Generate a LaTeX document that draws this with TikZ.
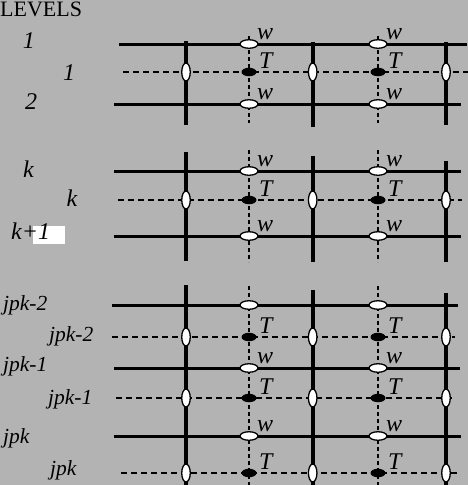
\documentclass[tikz,border=0pt]{standalone}
\usepackage{fontspec}
\setmainfont{Liberation Serif}
\usetikzlibrary{shapes.geometric}
\definecolor{bgGray}{RGB}{179,179,179}

\tikzset{
  solidrow/.style={line width=3pt},
  dashrow/.style={line width=2.5pt, dash pattern=on 6pt off 4pt},
  thickcol/.style={line width=4pt},
  dashcol/.style={line width=1.3pt, dash pattern=on 4pt off 3pt},
  wnode/.style={ellipse, draw, line width=1.3pt, fill=white, minimum width=18pt, minimum height=8.5pt, inner sep=0pt},
  tnode/.style={ellipse, fill=black, minimum width=15pt, minimum height=8.5pt, inner sep=0pt},
  vnode/.style={ellipse, draw, line width=1.3pt, fill=white, minimum width=8.5pt, minimum height=18pt, inner sep=0pt},
  numlab/.style={font=\fontsize{24}{26}\selectfont\itshape, inner sep=0pt, anchor=base},
  joblab/.style={font=\fontsize{21.5}{23}\selectfont\itshape, inner sep=0pt, anchor=base west},
  marklab/.style={font=\fontsize{24}{26}\selectfont\itshape, inner sep=0pt, anchor=base west}
}

\begin{document}
\begin{tikzpicture}[x=1pt, y=-1pt]
  % Background
  \useasboundingbox (0,0) rectangle (468,485);
  \fill[bgGray] (0,0) rectangle (468,485);

  % Horizontal rows
  \foreach \y/\xa/\xb in {44/119/467, 104/114/461, 171/114/461, 236/114/461,
                          305/112/458, 368/114/460, 436/114/461}
    \draw[solidrow] (\xa,\y) -- (\xb,\y);
  \foreach \y/\xa/\xb in {72/123/468, 200/118/462, 337/112/455, 398/116/452, 473/121/457}
    \draw[dashrow] (\xa,\y) -- (\xb,\y);

  % Vertical columns
  \foreach \x/\ya/\yb in {186/41/125, 312.7/42/127, 446/42/125,
                          186/152/261, 312.7/156/262, 446/161/262,
                          186/285/485, 312.7/290/485, 446/293/485}
    \draw[thickcol] (\x,\ya) -- (\x,\yb);
  \foreach \x/\ya/\yb in {249/36/123, 378/36/123, 249/150/262,
                          378/150/262, 249/286/485, 378/286/485}
    \draw[dashcol] (\x,\ya) -- (\x,\yb);

  % Ellipses on the solid rows
  \foreach \y [count=\i] in {44,104,171,236,305,368,436} {
    \node[wnode] (wa\i) at (249,\y) {};
    \node[wnode] (wb\i) at (378,\y) {};
  }
  % Ellipses on the dashed rows
  \foreach \y [count=\i] in {72,200,337,398,473} {
    \node[tnode] (ta\i) at (249,\y) {};
    \node[tnode] (tb\i) at (378,\y) {};
    \foreach \x [count=\j] in {186,312.7,446}
      \node[vnode] (v\i\j) at (\x,\y) {};
  }

  % w and T marks
  \foreach \i in {1,2,3,4,6,7} {
    \node[marklab] (lwa\i) at ([shift={(8,-5)}]wa\i.center) {w};
    \node[marklab] (lwb\i) at ([shift={(8,-5)}]wb\i.center) {w};
  }
  \foreach \i in {1,...,5} {
    \node[marklab] (lta\i) at ([shift={(10,-4)}]ta\i.center) {T};
    \node[marklab] (ltb\i) at ([shift={(10,-4)}]tb\i.center) {T};
  }

  % Level labels
  \node[font=\fontsize{22}{24}\selectfont, inner sep=0pt, anchor=base west] (levels) at (0,16) {LEVELS};
  \node[numlab] (l1) at (29,48.3) {1};
  \node[numlab] (s1) at (69,80) {1};
  \node[numlab] (l2) at (31,109) {2};
  \node[numlab] (lk) at (28.5,177.7) {k};
  \node[numlab] (sk) at (72,206.7) {k};
  \fill[white] (32.7,226) rectangle (65,243.7);
  \node[numlab, anchor=base west] (lk1) at (11,239) {k+1};
  \node[joblab] (lj2) at (3,310.7) {jpk-2};
  \node[joblab] (sj2) at (49,341.7) {jpk-2};
  \node[joblab] (lj1) at (3,371.7) {jpk-1};
  \node[joblab] (sj1) at (48,404.3) {jpk-1};
  \node[joblab] (lj) at (3,443.3) {jpk};
  \node[joblab] (sj) at (50,475) {jpk};
\end{tikzpicture}
\end{document}
